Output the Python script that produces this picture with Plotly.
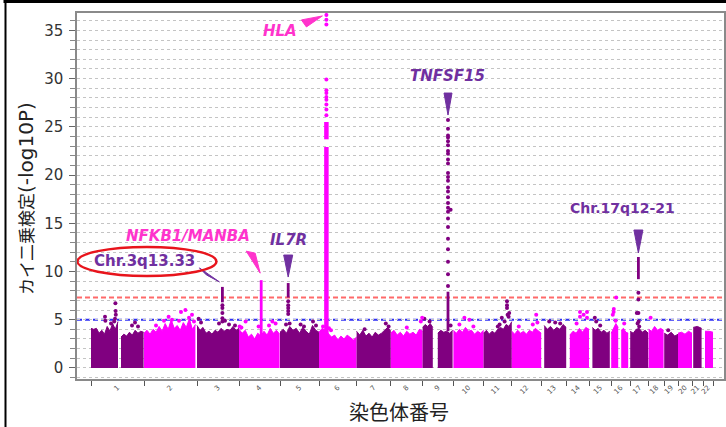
import numpy as np
import plotly.graph_objects as go

# ---------------- data ----------------
chrom_names = [str(i) for i in range(1, 23)]
chrom_len = [265, 265, 210, 205, 195, 188, 171, 159, 154, 151, 141,
             147, 127, 113, 110, 95, 92, 78, 69, 70, 55, 50]  # Mb (approx.)

# dense background band: one entry per contiguous SNP segment
seg_chrom = [1, 1, 2, 3, 4, 5, 6, 7, 8, 9, 9, 10, 11, 12, 13, 14, 15, 16, 16, 17, 18, 19, 20, 21, 22]
seg_start = [0, 150, 0, 0, 0, 0, 0, 0, 0, 0, 76, 0, 0, 0, 15, 16, 16, 0, 50, 0, 0, 0, 0, 6, 10]
seg_end = [135, 263, 257, 210, 203, 195, 188, 171, 159, 51, 150, 151, 141, 147, 125, 112, 103,
           35, 85, 90, 75, 70, 70, 48, 50]
seg_tops = [
    [4.1, 4.0, 4.1, 3.6, 3.9, 3.5, 4.3, 3.8, 4.6, 4.0, 4.8],
    [3.2, 3.5, 3.3, 3.7, 3.4, 3.9, 3.6, 3.8, 3.7],
    [3.6, 3.9, 3.5, 4.0, 3.7, 4.3, 3.8, 4.6, 4.0, 5.0, 4.1, 4.4, 3.9, 4.7, 4.2, 5.1, 4.0, 4.5],
    [4.4, 3.9, 4.2, 3.6, 3.8, 3.5, 3.9, 3.7, 4.1, 3.8, 4.0, 3.9, 4.3, 3.9, 4.1],
    [4.0, 3.6, 3.9, 3.2, 3.5, 3.0, 3.6, 3.3, 3.8, 3.4, 4.1, 3.6, 3.9, 3.5],
    [3.7, 4.0, 3.6, 4.3, 3.9, 4.1, 3.6, 4.2, 3.8, 3.5, 4.4, 3.9, 3.7],
    [3.7, 4.1, 3.9, 3.5, 3.2, 3.4, 2.9, 3.3, 3.0, 3.4, 3.1, 2.9, 3.2],
    [3.8, 3.4, 3.9, 3.3, 3.6, 3.2, 3.7, 3.4, 3.6, 3.9, 4.2, 3.8],
    [3.6, 3.9, 3.4, 3.7, 3.3, 3.8, 3.5, 3.7, 3.4, 4.0, 3.8],
    [4.2, 4.5, 4.3, 4.6, 4.2],
    [3.6, 3.9, 3.7, 3.8, 3.6, 3.9],
    [3.9, 3.6, 4.0, 3.7, 4.2, 3.8, 3.9, 3.5, 3.8, 3.6, 3.9],
    [3.6, 3.9, 3.5, 3.8, 3.6, 4.0, 4.2, 4.0, 4.5, 4.3, 4.8],
    [3.8, 3.5, 3.9, 3.6, 3.8, 3.5, 3.9, 3.7, 4.1, 3.8, 3.6],
    [4.4, 4.0, 4.3, 3.9, 4.2, 4.0, 4.5, 4.2],
    [3.4, 3.8, 3.6, 4.1, 3.7, 4.2, 4.0],
    [4.2, 3.9, 4.1, 3.7, 3.9, 3.6, 3.8],
    [3.6, 4.2, 4.6, 4.2],
    [3.9, 4.1, 3.7, 3.6],
    [3.8, 3.6, 4.0, 4.1, 3.7, 3.9, 3.6],
    [4.0, 3.8, 4.3, 3.9, 4.1, 3.9],
    [3.6, 3.4, 3.7, 3.3, 3.5],
    [3.6, 3.7, 3.5, 3.8, 3.6],
    [4.2, 4.3, 4.1],
    [3.8, 3.8, 3.7],
]

# scattered SNPs standing out of the band
pt_chrom = [1]*11 + [2]*10 + [3]*6 + [4]*7 + [5]*6 + [6]*3 + [7]*3 + [8]*3 + [9]*4 + [10]*4 \
    + [11]*10 + [12]*4 + [13]*3 + [14]*6 + [15]*3 + [16]*6 + [17]*4 + [18] + [19]
pt_pos = [70, 72, 100, 122, 123, 124, 120, 116, 205, 220, 235,
          60, 100, 123, 140, 175, 185, 207, 225, 240, 250,
          8, 20, 110, 140, 160, 190,
          3, 12, 33, 98, 150, 167, 183,
          30, 48, 103, 120, 165, 180,
          20, 50, 60,
          40, 146, 160,
          80, 150, 157,
          9, 35, 140, 140,
          30, 55, 80, 100,
          71, 80, 91, 105, 117, 117, 117, 120, 125, 128,
          35, 105, 122, 128,
          40, 70, 95,
          50, 67, 67, 85, 102, 102,
          28, 35, 55,
          8, 12, 13, 25, 22, 65,
          33, 37, 42, 45,
          10,
          20]
pt_val = [5.3, 4.9, 4.6, 6.7, 5.9, 5.5, 5.1, 4.8, 4.4, 4.7, 4.3,
          4.4, 4.9, 5.3, 5.0, 4.9, 5.8, 6.0, 5.2, 5.5, 4.8,
          5.1, 4.7, 4.6, 4.9, 4.5, 4.4,
          4.3, 4.2, 4.8, 4.3, 4.4, 4.8, 4.6,
          4.5, 4.6, 4.5, 4.3, 4.8, 4.4,
          4.3, 4.1, 3.9,
          4.0, 4.6, 4.3,
          4.2, 4.8, 5.2,
          5.1, 4.8, 4.4, 16.4,
          4.5, 5.2, 5.0, 4.3,
          4.3, 4.5, 5.2, 4.8, 6.9, 6.5, 6.2, 5.5, 5.3, 5.7,
          4.3, 4.5, 5.5, 4.7,
          4.8, 4.7, 4.6,
          4.6, 5.8, 5.3, 5.5, 5.8, 5.2,
          5.2, 4.8, 4.4,
          5.5, 5.8, 6.1, 7.3, 4.9, 4.6,
          5.7, 4.6, 4.8, 4.3,
          5.2,
          3.9]

# associated loci
peak_names = ["Chr.3q13.33", "NFKB1/MANBA", "IL7R", "HLA", "TNFSF15", "Chr.17q12-21"]
peak_chrom = [3, 4, 5, 6, 9, 17]
peak_pos = [127, 111, 41, 37, 127, 41]
run_peak = [0, 1, 2, 3, 3, 4, 5]          # solid (dense) stretches of each locus
run_lo = [6.8, 0.0, 7.3, 0.0, 23.7, 3.8, 9.2]
run_hi = [8.4, 9.1, 8.8, 22.9, 25.5, 7.9, 11.5]
peak_dots = [
    [6.5, 6.2, 5.7, 5.15, 4.8],
    [],
    [6.9, 6.5, 6.2, 5.9, 5.6],
    [26.2, 26.8, 27.3, 27.8, 28.1, 28.5, 28.8, 29.9, 35.6, 36.1, 36.6],
    [8.5, 9.7, 11.0, 12.3, 13.4, 14.6, 15.5, 16.2, 16.6, 17.1, 17.7, 18.3, 18.7, 19.4, 19.8,
     20.2, 21.2, 21.6, 22.2, 22.5, 23.1, 23.5, 23.9, 24.1, 24.8, 25.7],
    [7.8, 7.1, 5.7],
]

thresh_genome = 7.3
thresh_suggest = 5.0

# ---------------- styling / layout ----------------
PURPLE = "#800080"
MAGENTA = "#FF00FF"
LBL_PURPLE = "#7030A0"
LBL_PINK = "#FF33CC"
W, H = 726, 427
ML, MR, MT, MB = 77, 2, 13, 48
PW, PH = W - ML - MR, H - MT - MB

offsets = np.concatenate([[0], np.cumsum(chrom_len)[:-1]])
bounds = np.concatenate([[0], np.cumsum(chrom_len)])
centers = offsets + np.array(chrom_len) / 2.0


def ccol(c):
    return PURPLE if c % 2 == 1 else MAGENTA


def gx(c, p):
    return offsets[c - 1] + p


fig = go.Figure()

# background band
for c, s, e, tops in zip(seg_chrom, seg_start, seg_end, seg_tops):
    xs = gx(c, np.linspace(s, e, len(tops)))
    fig.add_trace(go.Scatter(x=xs, y=tops, mode="lines", fill="tozeroy",
                             line=dict(color=ccol(c), width=1), fillcolor=ccol(c),
                             hoverinfo="skip", showlegend=False))

# scattered points
for col in (PURPLE, MAGENTA):
    xs = [gx(c, p) for c, p in zip(pt_chrom, pt_pos) if ccol(c) == col]
    ys = [v for c, v in zip(pt_chrom, pt_val) if ccol(c) == col]
    fig.add_trace(go.Scatter(x=xs, y=ys, mode="markers",
                             marker=dict(color=col, size=4, line=dict(width=0)),
                             showlegend=False))

# peaks
peak_x = [gx(c, p) for c, p in zip(peak_chrom, peak_pos)]
peak_top = []
for i in range(len(peak_names)):
    vals = [h for k, h in zip(run_peak, run_hi) if k == i] + peak_dots[i]
    peak_top.append(max(vals))

for k, lo, hi in zip(run_peak, run_lo, run_hi):
    col = ccol(peak_chrom[k])
    wid = 4.5 if peak_names[k] == "HLA" else 2.8
    fig.add_trace(go.Scatter(x=[peak_x[k], peak_x[k]], y=[lo, hi], mode="lines",
                             line=dict(color=col, width=wid), showlegend=False))
for i, dots in enumerate(peak_dots):
    if dots:
        fig.add_trace(go.Scatter(x=[peak_x[i]] * len(dots), y=dots, mode="markers",
                                 marker=dict(color=ccol(peak_chrom[i]), size=4, line=dict(width=0)),
                                 showlegend=False))

# threshold lines
for yv, col in ((thresh_genome, "#FF6A6A"), (thresh_suggest, "#2F2FF5")):
    fig.add_shape(type="line", xref="paper", x0=0, x1=1, yref="y", y0=yv, y1=yv,
                  line=dict(color=col, width=2, dash="5px,3px"), layer="below")

# labels, pointers
label_style = {
    "Chr.3q13.33": dict(col=LBL_PURPLE, italic=False, size=15, dx=-78, dy=26,
                        tri=[(-23, 19), (-16, 12), (-3, 5)]),
    "NFKB1/MANBA": dict(col=LBL_PINK, italic=True, size=15, dx=-73, dy=44,
                        tri=[(-15, 29), (-6, 27), (-1, 7)]),
    "IL7R": dict(col=LBL_PURPLE, italic=True, size=15, dx=0, dy=43,
                 tri=[(-4.5, 28), (4.5, 28), (0, 6)]),
    "HLA": dict(col=LBL_PINK, italic=True, size=15, dx=-46, dy=-16,
                tri=[(-25, -5), (-20, -12), (-4, -1)]),
    "TNFSF15": dict(col=LBL_PURPLE, italic=True, size=15, dx=-1, dy=44,
                    tri=[(-4, 27), (4, 27), (0, 5)]),
    "Chr.17q12-21": dict(col=LBL_PURPLE, italic=False, size=14, dx=-16, dy=49,
                         tri=[(-4.5, 27), (4.5, 27), (0, 4)]),
}
for i, name in enumerate(peak_names):
    st = label_style[name]
    txt = f"<b><i>{name}</i></b>" if st["italic"] else f"<b>{name}</b>"
    fig.add_annotation(x=peak_x[i], y=peak_top[i], xref="x", yref="y", text=txt,
                       showarrow=False, xshift=st["dx"], yshift=st["dy"],
                       xanchor="center", yanchor="middle",
                       font=dict(family="DejaVu Sans", size=st["size"], color=st["col"]))
    (a, b), (c2, d), (e, f) = st["tri"]
    fig.add_shape(type="path", xref="x", yref="y", xsizemode="pixel", ysizemode="pixel",
                  xanchor=peak_x[i], yanchor=peak_top[i],
                  path=f"M {a} {b} L {c2} {d} L {e} {f} Z",
                  fillcolor=st["col"], line=dict(color=st["col"], width=1))

# red ellipse round the Chr.3 label
fig.add_shape(type="circle", xref="x", yref="y", xsizemode="pixel", ysizemode="pixel",
              xanchor=peak_x[0], yanchor=peak_top[0], x0=-145, x1=-6, y0=11, y1=40,
              line=dict(color="#E8141C", width=2.5), fillcolor="rgba(0,0,0,0)")


# outer black frame (top and left)
def px2paper_x(px):
    return (px - ML) / PW


def py2paper_y(py):
    return (H - MB - py) / PH


fig.add_shape(type="line", xref="paper", yref="paper", x0=px2paper_x(3.5), x1=px2paper_x(W + 2),
              y0=py2paper_y(1.5), y1=py2paper_y(1.5), line=dict(color="black", width=3))
fig.add_shape(type="line", xref="paper", yref="paper", x0=px2paper_x(5.5), x1=px2paper_x(5.5),
              y0=py2paper_y(0), y1=py2paper_y(H + 2), line=dict(color="black", width=2))

# axis titles
fig.add_annotation(xref="paper", yref="paper", x=px2paper_x(25), y=py2paper_y(199),
                   text="カイ二乗検定<span style='font-family:DejaVu Sans;font-size:20px'>(-log10P)</span>",
                   textangle=-90, showarrow=False, xanchor="center", yanchor="middle",
                   font=dict(family="Noto Sans CJK JP", size=17, color="#222222"))
fig.add_annotation(xref="paper", yref="paper", x=px2paper_x(399), y=py2paper_y(411),
                   text="染色体番号", showarrow=False, xanchor="center", yanchor="middle",
                   font=dict(family="Noto Sans CJK JP", size=20, color="#222222"))

fig.update_layout(
    width=W, height=H, margin=dict(l=ML, r=MR, t=MT, b=MB, pad=0, autoexpand=False),
    paper_bgcolor="white", plot_bgcolor="white", showlegend=False,
    font=dict(family="DejaVu Sans", color="#333333"),
    xaxis=dict(range=[-70, 3165], showgrid=False, zeroline=False, automargin=False,
               tickvals=list(centers), ticktext=chrom_names, ticks="", tickangle=-45,
               tickfont=dict(size=7, color="#555555"),
               showline=True, linecolor="#8a8a8a", linewidth=1.5, mirror=True,
               minor=dict(tickvals=list(bounds), ticks="outside", ticklen=5,
                          tickcolor="#555555", tickwidth=1, showgrid=False)),
    yaxis=dict(range=[-1.15, 36.8], tickvals=[0, 5, 10, 15, 20, 25, 30, 35], automargin=False,
               ticks="outside", ticklen=6, tickcolor="#666666", tickwidth=1,
               tickfont=dict(size=15, color="#333333"), ticklabelstandoff=3,
               showgrid=True, gridcolor="#c4c4c4", griddash="dot", gridwidth=1,
               zeroline=False, showline=True, linecolor="#8a8a8a", linewidth=1.5, mirror=True,
               minor=dict(dtick=1, tick0=0, ticks="outside", ticklen=5, tickcolor="#888888",
                          showgrid=True, gridcolor="#c4c4c4", griddash="dot", gridwidth=1)),
)

fig.write_html("out.html", config={"displayModeBar": False},
               post_script="document.body.style.margin='0px';document.body.style.overflow='hidden';")
